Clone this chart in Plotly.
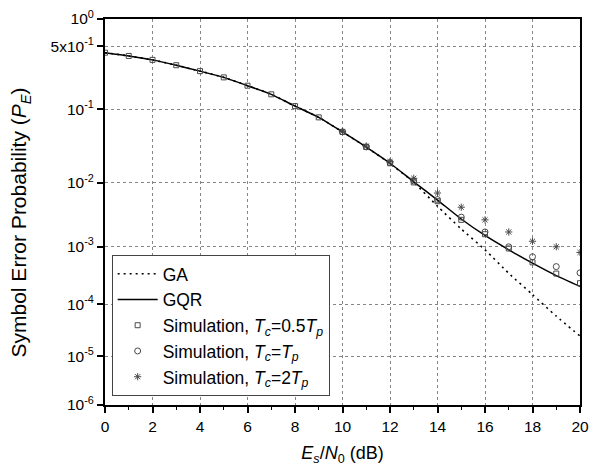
import numpy as np
import plotly.graph_objects as go

# Es/N0 grid (dB)
snr_db = list(range(0, 21))

# Analytical curves
pe_ga = [0.423, 0.389, 0.352, 0.307, 0.264, 0.225, 0.182, 0.146, 0.108, 0.0773,
         0.0490, 0.0305, 0.0182, 0.0101, 0.00428, 0.00188, 0.000877, 0.000344,
         0.000147, 5.91e-5, 2.47e-5]
pe_gqr = [0.423, 0.389, 0.352, 0.307, 0.264, 0.225, 0.182, 0.146, 0.108, 0.0773,
          0.0490, 0.0305, 0.0184, 0.0103, 0.00535, 0.0027, 0.00149, 0.000878,
          0.000515, 0.000314, 0.000204]

# Monte-Carlo results for three chip durations (None: not simulated)
pe_sim_half = [0.423, 0.389, 0.352, 0.307, 0.264, 0.225, 0.182, 0.146, 0.108, 0.0773,
               0.0490, 0.0305, 0.0184, 0.0101, 0.00513, 0.00262, 0.00156, 0.000924,
               0.000532, 0.00034, 0.000232]
pe_sim_one = [None, None, None, None, None, None, None, None, None, None,
              0.0492, 0.0308, 0.0188, 0.0106, 0.00545, 0.00289, 0.00169, 0.000988,
              0.000666, 0.000449, 0.00035]
pe_sim_two = [None, None, None, None, None, None, None, None, None, None,
              0.0497, 0.0315, 0.0194, 0.0115, 0.0069, 0.00413, 0.00262, 0.00169,
              0.00121, 0.00099, 0.000789]

# Tick labels on the probability axis
y_tick_values = [1.0, 0.5, 1e-1, 1e-2, 1e-3, 1e-4, 1e-5, 1e-6]
y_tick_labels = ["10<sup>0</sup>", "5x10<sup>-1</sup>", "10<sup>-1</sup>", "10<sup>-2</sup>",
                 "10<sup>-3</sup>", "10<sup>-4</sup>", "10<sup>-5</sup>", "10<sup>-6</sup>"]

# The probability axis is a compressed log scale: each successive decade
# (10^0..10^-1, 10^-1..10^-2, ...) occupies a shrinking share of the height.
DECADE_HEIGHTS = [91, 74.3, 64.4, 58.3, 52.7, 49]
_decade_edges = np.concatenate([[0.0], np.cumsum(DECADE_HEIGHTS)])


def prob_scale(p):
    vals = np.array([np.nan if v is None else v for v in p], dtype=float)
    n = -np.log10(vals)
    out = -np.interp(n, np.arange(len(_decade_edges)), _decade_edges)
    return [None if np.isnan(v) else float(o) for v, o in zip(vals, out)]


FONT = "Arial, Liberation Sans, sans-serif"
MARK = "#4a4a4a"

fig = go.Figure()
fig.add_trace(go.Scatter(x=snr_db, y=prob_scale(pe_ga), mode="lines", name="GA",
                         line=dict(color="black", width=1.6, dash="2px,4px",
                                   shape="spline", smoothing=0.6)))
fig.add_trace(go.Scatter(x=snr_db, y=prob_scale(pe_gqr), mode="lines", name="GQR",
                         line=dict(color="black", width=1.5,
                                   shape="spline", smoothing=0.6)))
fig.add_trace(go.Scatter(x=snr_db, y=prob_scale(pe_sim_half), mode="markers",
                         name="Simulation, <i>T<sub>c</sub></i>=0.5<i>T<sub>p</sub></i>",
                         marker=dict(symbol="square-open", size=5, color=MARK,
                                     line=dict(width=1, color=MARK))))
fig.add_trace(go.Scatter(x=snr_db, y=prob_scale(pe_sim_one), mode="markers",
                         name="Simulation, <i>T<sub>c</sub></i>=<i>T<sub>p</sub></i>",
                         marker=dict(symbol="circle-open", size=6, color=MARK,
                                     line=dict(width=1, color=MARK))))
fig.add_trace(go.Scatter(x=snr_db, y=prob_scale(pe_sim_two), mode="markers",
                         name="Simulation, <i>T<sub>c</sub></i>=2<i>T<sub>p</sub></i>",
                         marker=dict(symbol="asterisk-open", size=6, color=MARK,
                                     line=dict(width=1, color=MARK))))

axis_common = dict(
    showline=True, linecolor="black", linewidth=2, mirror=True,
    ticks="outside", ticklen=6, tickwidth=1.5, tickcolor="black",
    showgrid=True, gridcolor="#858585", gridwidth=1, griddash="dot",
    zeroline=False, tickfont=dict(family=FONT, size=15.5, color="black"),
)

fig.update_layout(
    width=597, height=468,
    margin=dict(l=105, r=8, t=15, b=63),
    paper_bgcolor="white", plot_bgcolor="white",
    font=dict(family=FONT, color="black"),
    xaxis=dict(axis_common, range=[0, 20], dtick=2, tick0=0,
               minor=dict(dtick=1, ticklen=3, tickwidth=1.2, ticks="outside",
                          tickcolor="black", showgrid=False),
               title=dict(text="<i>E</i><sub><i>s</i></sub>/<i>N</i><sub>0</sub> (dB)",
                          font=dict(family=FONT, size=18), standoff=13)),
    yaxis=dict(axis_common, range=[-float(_decade_edges[-1]), 0],
               tickmode="array", tickvals=prob_scale(y_tick_values),
               ticktext=y_tick_labels),
    legend=dict(x=0.014, y=0.389, xanchor="left", yanchor="top",
                bgcolor="white", bordercolor="#444444", borderwidth=1,
                font=dict(family=FONT, size=17.5, color="black"),
                itemwidth=40, tracegroupgap=0),
    showlegend=True,
)

# Y-axis title, set slightly below the plot's vertical centre
fig.add_annotation(
    text="Symbol Error Probability (<i>P</i><sub><i>E</i></sub>)",
    xref="paper", yref="paper", x=-0.178, y=0.474,
    xanchor="center", yanchor="middle", textangle=-90, showarrow=False,
    font=dict(family=FONT, size=21, color="black"),
)

fig.write_html("out.html")
